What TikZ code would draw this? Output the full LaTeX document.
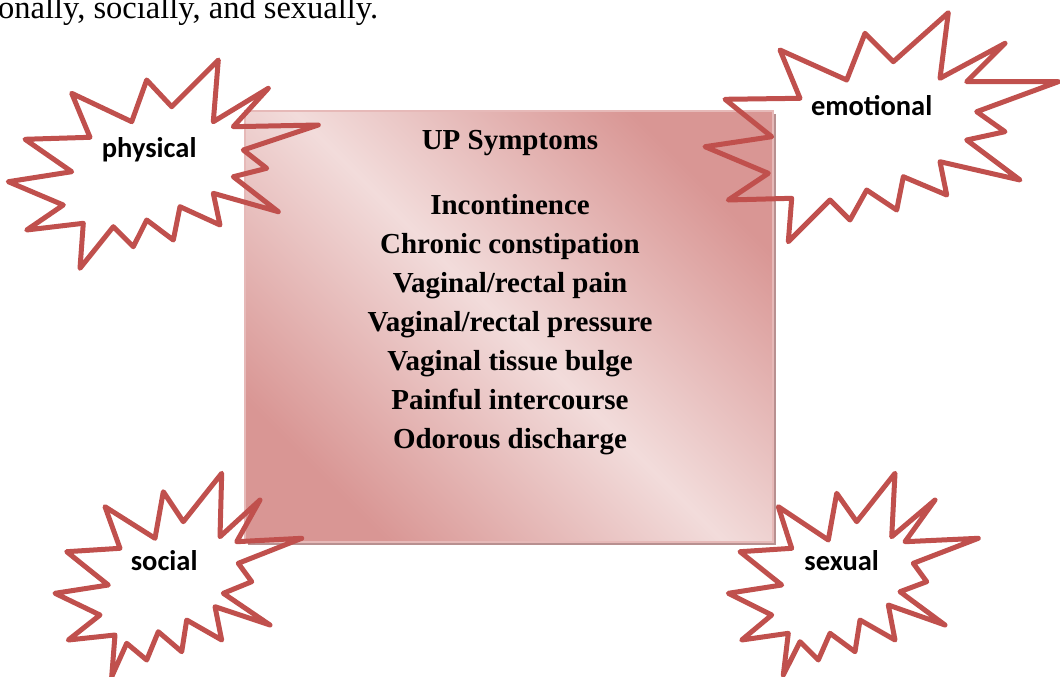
\documentclass[tikz,border=0pt]{standalone}
\usepackage{fontspec}
\setmainfont{Liberation Serif}
\newfontfamily\labelfont{Carlito}
\definecolor{burstred}{HTML}{C0504D}
\definecolor{boxdark}{HTML}{D99694}
\definecolor{boxlight}{HTML}{F2DCDB}
\definecolor{boxedge}{HTML}{E6B9B8}
\definecolor{boxshadow}{HTML}{B89090}
\begin{document}
\begin{tikzpicture}[x=1pt,y=-1pt,
  burst/.style={draw=burstred, line width=5pt, line join=round},
  burstlabel/.style={font=\labelfont\bfseries\fontsize{28.5}{34}\selectfont, anchor=base, inner sep=0pt},
  symline/.style={font=\bfseries\fontsize{29}{35}\selectfont, anchor=base, inner sep=0pt},
  symbox/.style={minimum width=528pt, minimum height=431pt, inner sep=0pt, draw=boxedge, line width=1.5pt,
    top color=boxdark, bottom color=boxdark, middle color=boxlight, shading angle=-45}]
\useasboundingbox (0,0) rectangle (1060,677);
\clip (0,0) rectangle (1060,677);
% clipped sentence at the top
\node[anchor=base west, inner sep=0pt, font=\fontsize{32.5}{38}\selectfont] (toptext) at (-2,18.5) {onally, socially, and sexually.};
% box with shadow
\fill[boxshadow] (248,114) rectangle (776,545);
\node[symbox] (box) at (509,326.5) {};
\node[symline] (title) at (510,149.3) {UP Symptoms};
\foreach \t [count=\i] in {Incontinence,Chronic constipation,Vaginal/rectal pain,Vaginal/rectal pressure,Vaginal tissue bulge,Painful intercourse,Odorous discharge}
  \node[symline] (l\i) at (510,{214+39*(\i-1)}) {\t};
% explosions
\draw[burst] (8.3,181.7) -- (71.7,171.7) -- (25,139.3) -- (90,137.3) -- (71.7,93.3) -- (131.7,121.7) -- (146.7,80) -- (171.7,106.7) -- (218.3,60) -- (213.3,121.7) -- (268.3,88.3) -- (233.3,126.7) -- (318.3,125) -- (243.3,150) -- (266.7,168.3) -- (233.3,176.7) -- (278.3,211.7) -- (213.3,193.3) -- (220,225) -- (180,206.7) -- (173.3,240) -- (146.7,220) -- (133.3,246.7) -- (113.3,226.7) -- (80,268.3) -- (83.3,223.3) -- (26.7,230) -- (63.3,205) -- cycle;
\draw[burst] (705,146.7) -- (771.7,136.7) -- (725,99.3) -- (800,98.3) -- (780,50) -- (846.7,80) -- (865,33.3) -- (893.3,61.7) -- (948.3,12.7) -- (940,78.3) -- (1005,43.3) -- (966.7,81.7) -- (1058.3,81.7) -- (976.7,111.7) -- (1005,131.7) -- (966.7,140) -- (1020,180) -- (940,161.7) -- (946.7,195) -- (903.3,176.7) -- (896.7,210) -- (866.7,190) -- (850,220) -- (830,200) -- (788.3,241.7) -- (791.7,198.3) -- (728.3,200) -- (768.3,173.3) -- cycle;
\draw[burst] (55,593.3) -- (108.3,585) -- (66.7,551.7) -- (120,548.3) -- (105,506.7) -- (155,538.3) -- (163.3,491.7) -- (183.3,521.7) -- (221.7,473.3) -- (220,536.7) -- (260,500) -- (236.7,541.7) -- (301.7,538.3) -- (238.3,563.3) -- (251.7,581.7) -- (223.3,593.3) -- (270,625) -- (215,606.7) -- (221.7,640) -- (186.7,620) -- (181.7,651.7) -- (158.3,631.7) -- (146.7,660) -- (126.7,643.3) -- (111.7,676.7) -- (115,635) -- (68.3,640) -- (100,615) -- cycle;
\draw[burst] (728.3,593.3) -- (781.7,585) -- (740,551.7) -- (791.7,548.3) -- (778.3,506.7) -- (828.3,540) -- (836.7,493.3) -- (856.7,521.7) -- (895,473.3) -- (891.7,536.7) -- (935,500) -- (905,541.7) -- (978.3,538.3) -- (913.3,563.3) -- (926.7,581.7) -- (900,591.7) -- (945,625) -- (888.3,605) -- (895,640) -- (860,620) -- (855,651.7) -- (830,633.3) -- (818.3,660) -- (800,641.7) -- (783.3,675) -- (788.3,633.3) -- (741.7,640) -- (771.7,615) -- cycle;
% labels
\node[burstlabel] (physical) at (149.2,157.3) {physical};
\node[burstlabel] (emotional) at (871.7,115) {emotional};
\node[burstlabel] (social) at (164.2,570) {social};
\node[burstlabel] (sexual) at (841.7,570) {sexual};
\end{tikzpicture}
\end{document}
